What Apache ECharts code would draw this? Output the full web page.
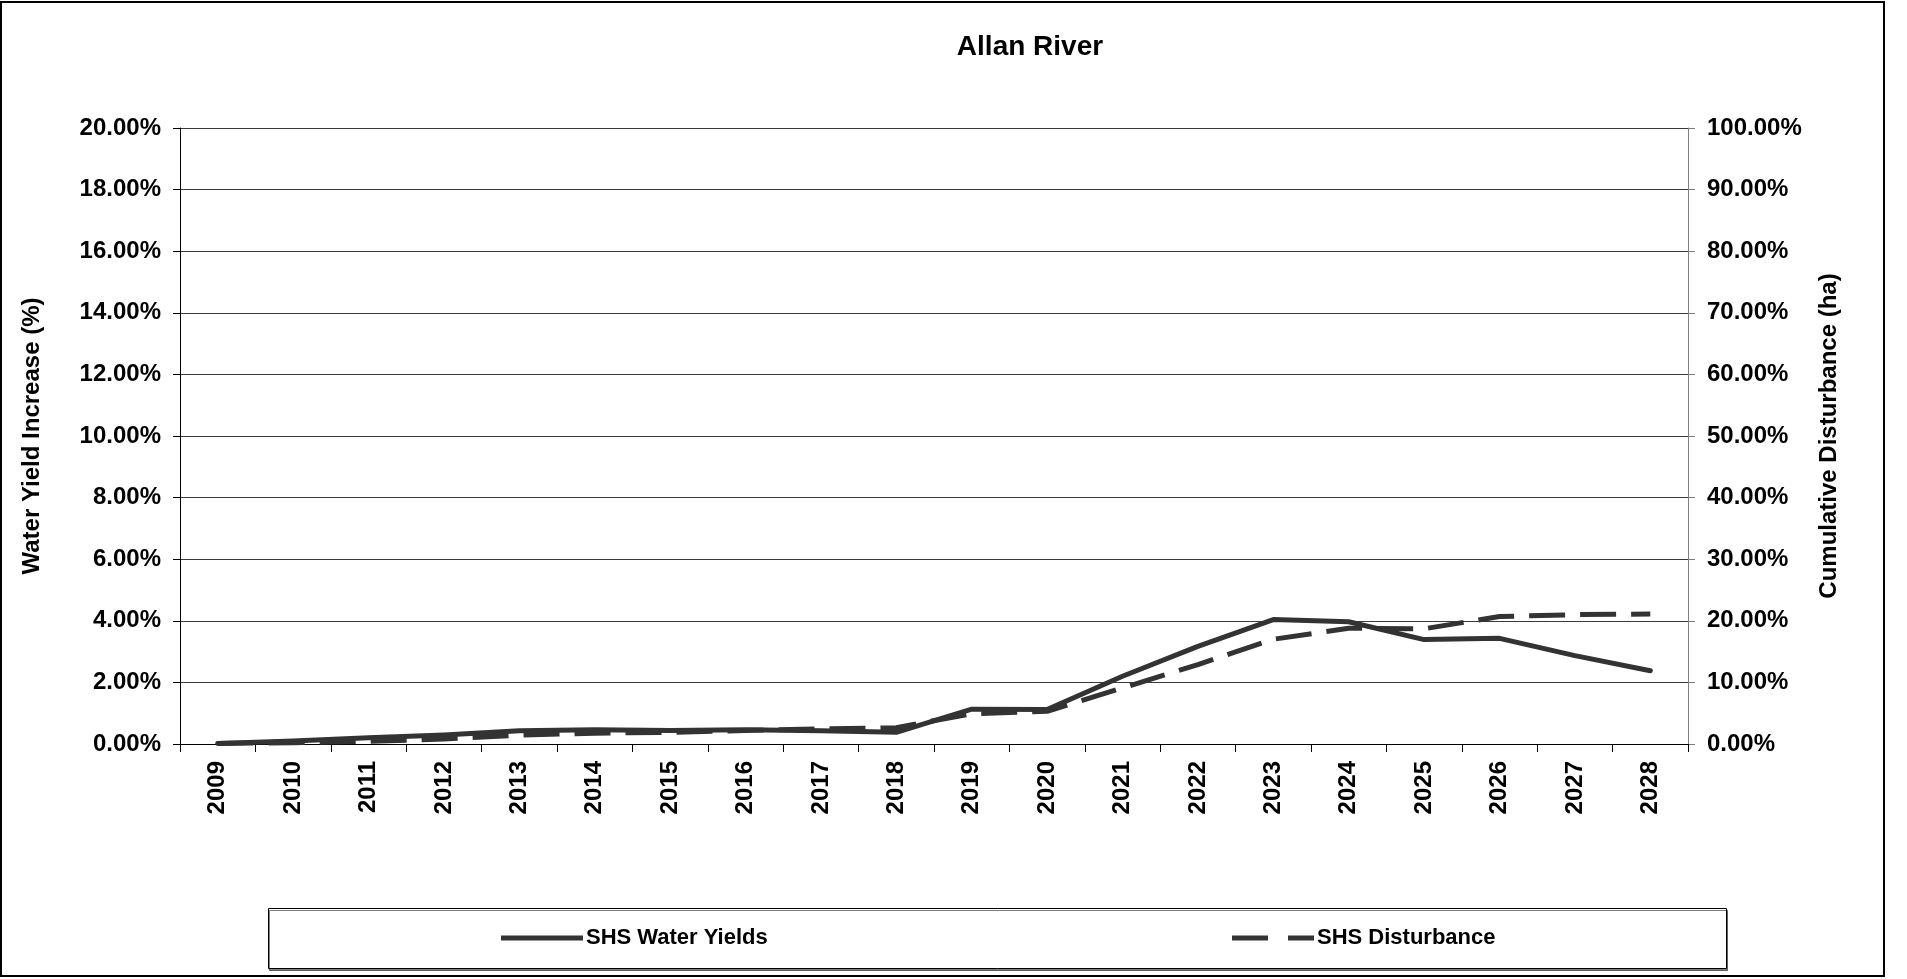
<!DOCTYPE html>
<html>
<head>
<meta charset="utf-8">
<script src="https://cdn.jsdelivr.net/npm/echarts@6/dist/echarts.min.js"></script>
<style>
html,body{margin:0;padding:0;background:#fff;}
#chart{width:1907px;height:979px;}
</style>
</head>
<body>
<div id="chart"></div>
<script>
const years = ['2009','2010','2011','2012','2013','2014','2015','2016','2017','2018','2019','2020','2021','2022','2023','2024','2025','2026','2027','2028'];
const waterYields = [0.02, 0.10, 0.20, 0.29, 0.43, 0.46, 0.44, 0.46, 0.43, 0.38, 1.13, 1.12, 2.20, 3.17, 4.04, 3.97, 3.39, 3.43, 2.87, 2.38];
const disturbance = [0.1, 0.2, 0.45, 0.8, 1.45, 1.75, 1.9, 2.2, 2.45, 2.65, 4.9, 5.3, 9.1, 12.9, 17.0, 18.8, 18.7, 20.7, 21.0, 21.1];
const leftTicks = {min: 0, max: 20, interval: 2};
const rightTicks = {min: 0, max: 100, interval: 10};

const FONT = '"Liberation Sans", Arial, sans-serif';
const chart = echarts.init(document.getElementById('chart'), null, {renderer: 'canvas'});
const lbl = {fontFamily: FONT, fontWeight: 'bold', fontSize: 24, color: '#000'};
const legText = {fontFamily: FONT, fontWeight: 'bold', fontSize: 22, color: '#000', padding: [0,0,0,-2]};

chart.setOption({
  backgroundColor: '#fff',
  animation: false,
  title: {
    text: 'Allan River',
    left: 1025, top: 28, textAlign: 'center',
    textStyle: {fontFamily: FONT, fontWeight: 'bold', fontSize: 28, color: '#000'}
  },
  graphic: [
    {type: 'rect', shape: {x: 1, y: 2, width: 1883, height: 974}, style: {fill: 'none', stroke: '#000', lineWidth: 2}, z: -1},
    {type: 'rect', shape: {x: 268.5, y: 908.5, width: 1458, height: 60}, style: {fill: '#fff', stroke: '#000', lineWidth: 1, shadowColor: 'rgba(0,0,0,0.5)', shadowOffsetY: 2, shadowOffsetX: 1}, z: -1}
  ],
  legend: [
    {data: [{name: 'SHS Water Yields', icon: 'path://M0,0H82V5H0Z'}], left: 501, top: 927, padding: 0,
     itemWidth: 82, itemHeight: 5, itemGap: 0, itemStyle: {color: '#333333'}, textStyle: legText},
    {data: [{name: 'SHS Disturbance', icon: 'path://M0,0H36V5H0Z M56,0H82V5H56Z'}], left: 1232, top: 927, padding: 0,
     itemWidth: 82, itemHeight: 5, itemGap: 0, itemStyle: {color: '#333333'}, textStyle: legText}
  ],
  grid: {left: 180, right: 219, top: 128, bottom: 235, containLabel: false},
  xAxis: {
    type: 'category',
    data: years,
    boundaryGap: true,
    axisLine: {lineStyle: {color: '#000', width: 1}},
    axisTick: {show: true, length: 8, interval: 0, lineStyle: {color: '#000'}},
    axisLabel: Object.assign({rotate: 90, margin: 17, interval: 0}, lbl),
    splitLine: {show: false}
  },
  yAxis: [
    {
      type: 'value', position: 'left',
      min: leftTicks.min, max: leftTicks.max, interval: leftTicks.interval,
      name: 'Water Yield Increase (%)', nameLocation: 'middle', nameRotate: 90, nameGap: 136,
      nameTextStyle: {fontFamily: FONT, fontWeight: 'bold', fontSize: 24, color: '#000'},
      axisLine: {show: true, lineStyle: {color: '#000', width: 1}},
      axisTick: {show: true, length: 7, lineStyle: {color: '#000'}},
      axisLabel: Object.assign({margin: 19, formatter: v => v.toFixed(2) + '%'}, lbl),
      splitLine: {show: true, lineStyle: {color: '#3a3a3a', width: 1}}
    },
    {
      type: 'value', position: 'right',
      min: rightTicks.min, max: rightTicks.max, interval: rightTicks.interval,
      name: 'Cumulative Disturbance (ha)', nameLocation: 'middle', nameRotate: 90, nameGap: 129,
      nameTextStyle: {fontFamily: FONT, fontWeight: 'bold', fontSize: 24, color: '#000'},
      axisLine: {show: true, lineStyle: {color: '#808080', width: 1}},
      axisTick: {show: true, length: 7, lineStyle: {color: '#808080'}},
      axisLabel: Object.assign({margin: 19, formatter: v => v.toFixed(2) + '%'}, lbl),
      splitLine: {show: false}
    }
  ],
  series: [
    {
      name: 'SHS Water Yields', type: 'line', yAxisIndex: 0, data: waterYields,
      symbol: 'none', smooth: false,
      lineStyle: {color: '#333333', width: 5, type: 'solid', cap: 'round', join: 'round'},
      itemStyle: {color: '#333333'}
    },
    {
      name: 'SHS Disturbance', type: 'line', yAxisIndex: 1, data: disturbance,
      symbol: 'none', smooth: false,
      lineStyle: {color: '#333333', width: 5, type: [36, 15], cap: 'butt'},
      itemStyle: {color: '#333333'}
    }
  ]
});
</script>
</body>
</html>
